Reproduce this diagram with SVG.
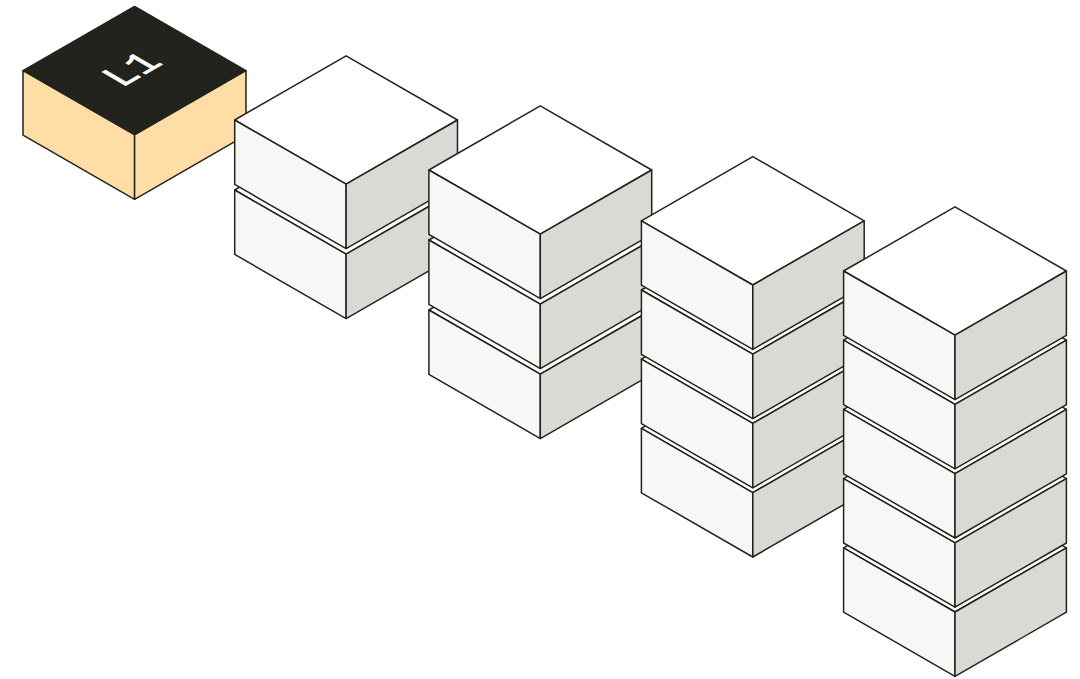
<svg xmlns="http://www.w3.org/2000/svg" xmlns:xlink="http://www.w3.org/1999/xlink" width="1080" height="679" viewBox="0 0 1080 679">
<style>
.e{stroke:#23231e;stroke-width:1.5;stroke-linejoin:round}
.t{fill:#fff}.l{fill:#f7f7f5}.r{fill:#d9dad5}
.lab{font-family:"Liberation Mono",monospace;font-size:41px;fill:#fff;stroke:#fff;stroke-width:.7}
</style>
<defs>
<g id="b">
<path class="e t" d="M0 0L111.4 -64.2L222.8 0L111.4 64.2Z"/>
<path class="e l" d="M0 0L111.4 64.2V128.6L0 64.4Z"/>
<path class="e r" d="M222.8 0L111.4 64.2V128.6L222.8 64.4Z"/>
</g>
</defs>
<rect width="1080" height="679" fill="#fff"/>
<g id="node-l1">
<path class="e" fill="#23231e" d="M23 70.7L134.6 6.5L246 70.7L134.6 134.9Z"/>
<path class="e" fill="#ffdea6" d="M23 70.7L134.6 134.9V199.3L23 135.1Z"/>
<path class="e" fill="#ffdea6" d="M246 70.7L134.6 134.9V199.3L246 135.1Z"/>
<text class="lab" text-anchor="middle" transform="matrix(.866 -.5 .866 .5 130.6 68.7)" y="14">L1</text>
</g>
<g id="stack-1">
<use id="s1b2" href="#b" x="234.7" y="190"/>
<use id="s1b1" href="#b" x="234.7" y="120"/>
</g>
<g id="stack-2">
<use id="s2b3" href="#b" x="428.9" y="310"/>
<use id="s2b2" href="#b" x="428.9" y="240"/>
<use id="s2b1" href="#b" x="428.9" y="170"/>
</g>
<g id="stack-3">
<use id="s3b4" href="#b" x="641.4" y="428.4"/>
<use id="s3b3" href="#b" x="641.4" y="359.2"/>
<use id="s3b2" href="#b" x="641.4" y="290"/>
<use id="s3b1" href="#b" x="641.4" y="220.8"/>
</g>
<g id="stack-4">
<use id="s4b5" href="#b" x="843.6" y="547.8"/>
<use id="s4b4" href="#b" x="843.6" y="478.6"/>
<use id="s4b3" href="#b" x="843.6" y="409.4"/>
<use id="s4b2" href="#b" x="843.6" y="340.2"/>
<use id="s4b1" href="#b" x="843.6" y="271"/>
</g>
<g id="connectors"/>
</svg>
